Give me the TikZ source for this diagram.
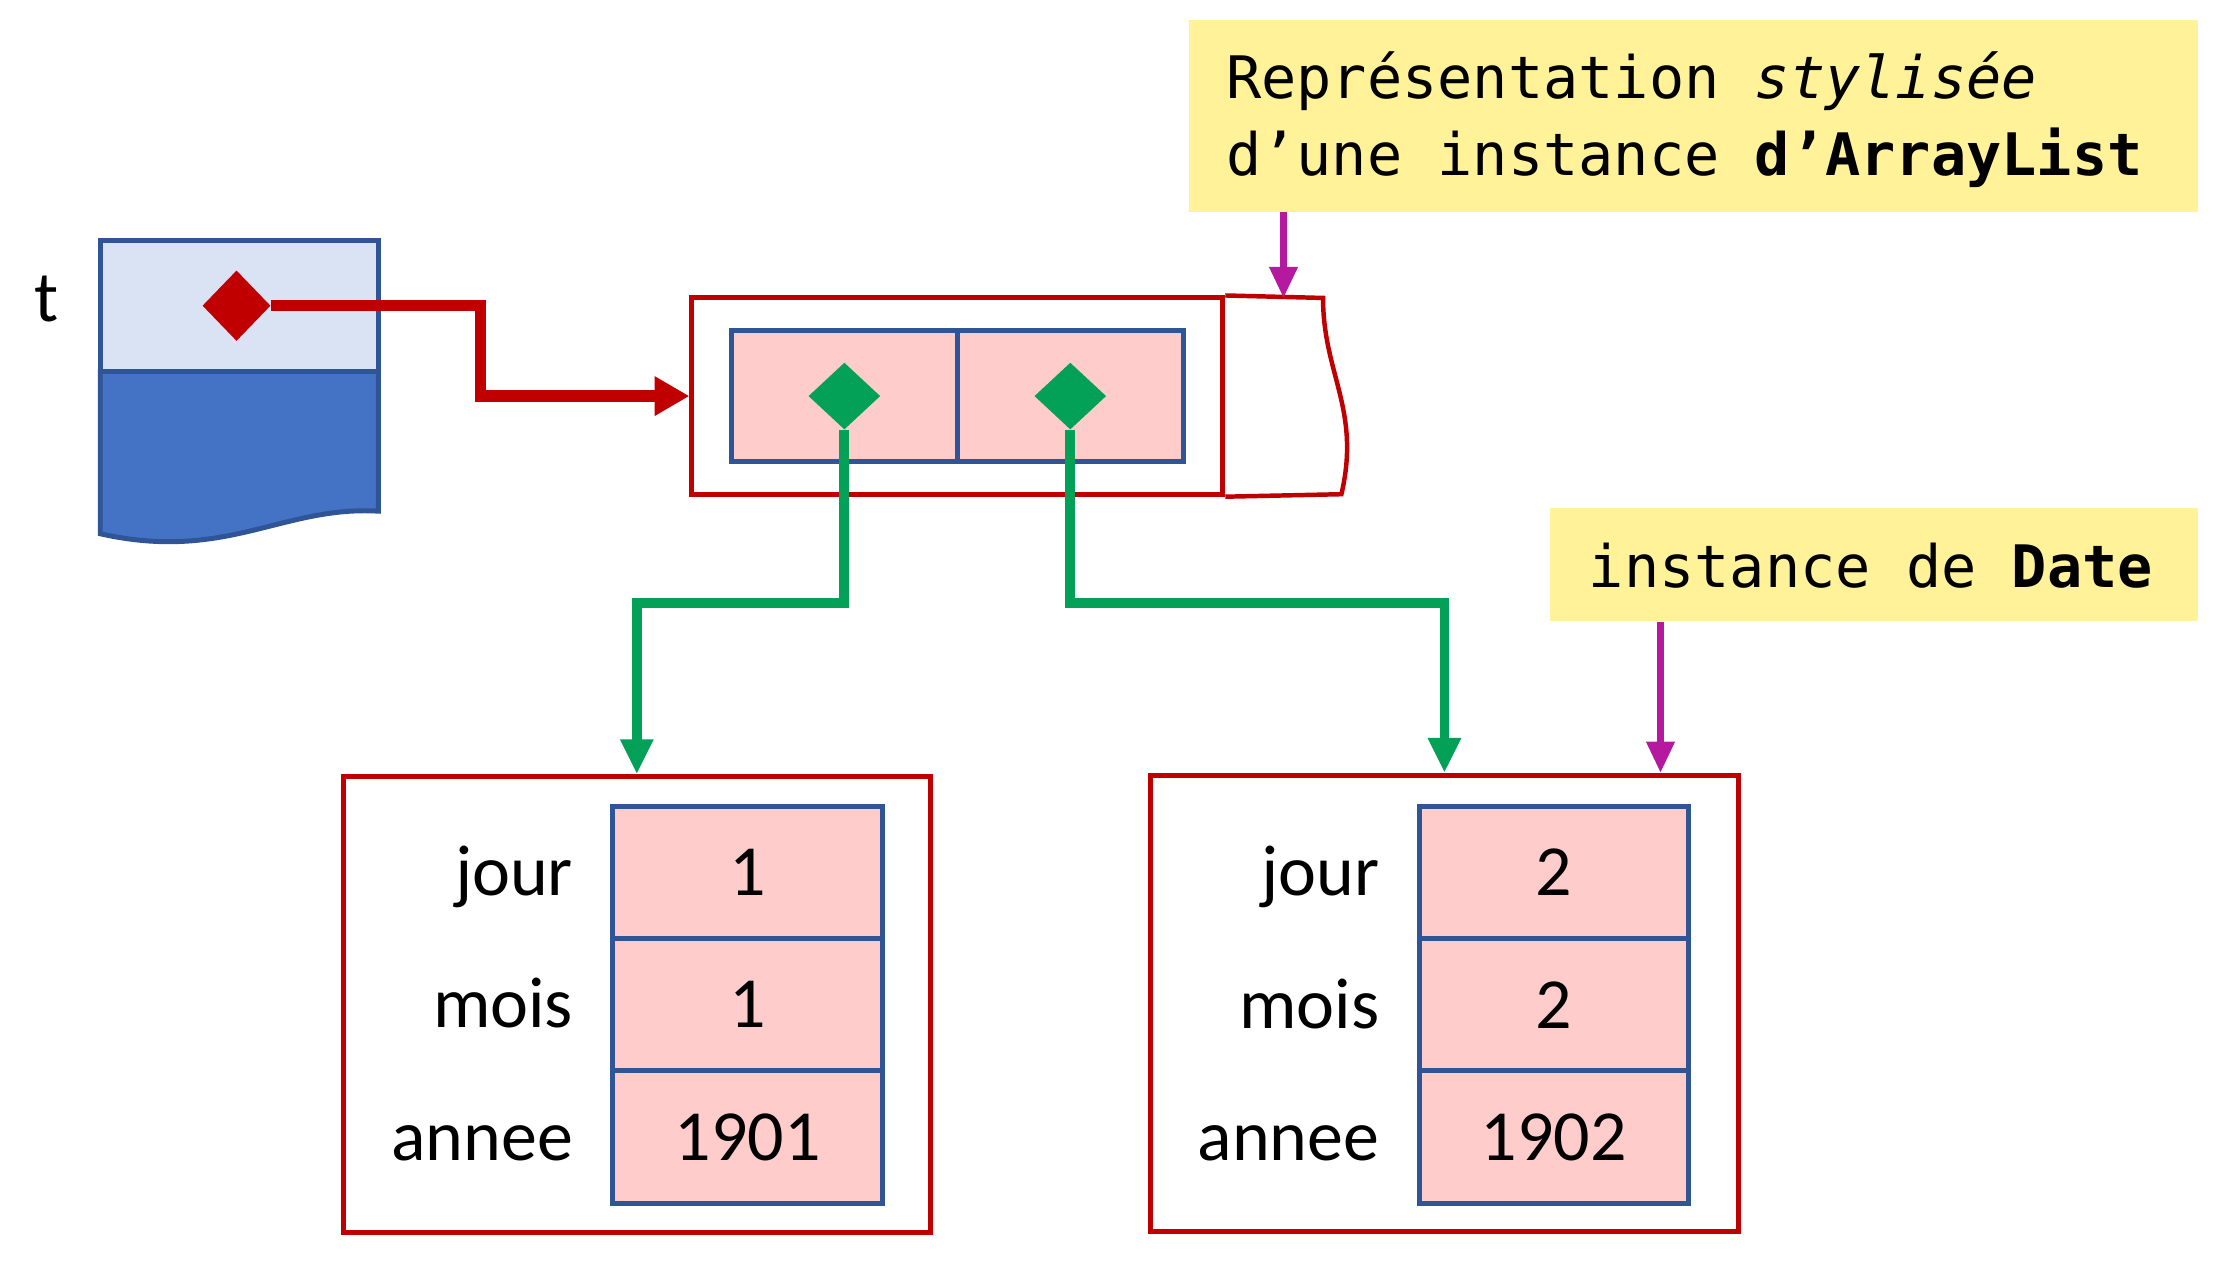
\documentclass[tikz,border=0pt]{standalone}
\usepackage{fontspec}
\setmainfont{Carlito}
\newfontfamily\monof{DejaVu Sans Mono}
\usetikzlibrary{arrows.meta,shapes.geometric}
\definecolor{redC}{RGB}{192,0,0}
\definecolor{blueB}{RGB}{47,85,151}
\definecolor{pinkF}{RGB}{255,204,204}
\definecolor{greenC}{RGB}{3,160,87}
\definecolor{yellowF}{RGB}{255,242,153}
\definecolor{lightB}{RGB}{218,227,243}
\definecolor{blueF}{RGB}{68,114,196}
\definecolor{magC}{RGB}{180,25,160}
\newcommand\pxu{0.02cm}
\begin{document}
\begin{tikzpicture}[x=0.02cm,y=-0.02cm,line join=miter,
  redbox/.style={draw=redC,line width=2pt,fill=white,inner sep=0pt},
  cellbox/.style={draw=blueB,line width=2pt,fill=pinkF,inner sep=0pt,font=\fontsize{29}{34}\selectfont},
  lab/.style={font=\fontsize{29}{34}\selectfont,inner sep=0pt},
  monotxt/.style={font=\monof\fontsize{23.6}{28}\selectfont,inner sep=0pt},
  yellowbox/.style={fill=yellowF,inner sep=0pt},
  ptrR/.style={diamond,fill=redC,inner sep=0pt,minimum width=27.5pt,minimum height=28.5pt},
  ptrG/.style={diamond,fill=greenC,inner sep=0pt,minimum width=29pt,minimum height=27pt},
  redarrow/.style={draw=redC,line width=4.5pt,-{Triangle[length=14pt,width=15pt]}},
  greenarrow/.style={draw=greenC,line width=4pt,-{Triangle[length=14pt,width=12.5pt]}},
  magarrow/.style={draw=magC,line width=2.5pt,-{Triangle[length=12.5pt,width=11pt]}}]
\useasboundingbox (0,0) rectangle (1568,894);

% variable t
\node[lab,anchor=base] (t) at (33,228) {t};
\draw[draw=blueB,line width=2pt,fill=blueF] (71,263) -- (268,263) -- (268,362)
  .. controls (200,358) and (160,398) .. (71,378) -- cycle;
\node[draw=blueB,line width=2pt,fill=lightB,inner sep=0pt,minimum width=197*\pxu,minimum height=93*\pxu] (vtop) at (169.5,216.5) {};
\node[ptrR] (rd) at ([xshift=-2*\pxu]vtop.center) {};

% ArrayList
\node[redbox,minimum width=376*\pxu,minimum height=139*\pxu] (al) at (678,280.5) {};
\draw[draw=redC,line width=1.8pt] (al.north east) -- (937,211)
  .. controls (937,265) and (964,290) .. (950,350) -- (al.south east);
\node[cellbox,minimum width=160*\pxu,minimum height=93*\pxu] (c1) at (598,280.5) {};
\node[cellbox,minimum width=160*\pxu,minimum height=93*\pxu] (c2) at (758,280.5) {};
\node[ptrG] (g1) at (c1.center) {};
\node[ptrG] (g2) at (c2.center) {};

% Date 1
\node[redbox,minimum width=416*\pxu,minimum height=323*\pxu] (d1) at (451,711.5) {};
\node[cellbox,minimum width=191*\pxu,minimum height=93.7*\pxu] (d1a) at (529.5,617.8) {1};
\node[cellbox,minimum width=191*\pxu,minimum height=93.7*\pxu] (d1b) at (529.5,711.5) {1};
\node[cellbox,minimum width=191*\pxu,minimum height=93.7*\pxu] (d1c) at (529.5,805.2) {1901};
\node[lab,anchor=base east] (l1a) at ([xshift=-26*\pxu]d1a.base west) {jour};
\node[lab,anchor=base east] (l1b) at ([xshift=-26*\pxu]d1b.base west) {mois};
\node[lab,anchor=base east] (l1c) at ([xshift=-26*\pxu]d1c.base west) {annee};

% Date 2
\node[redbox,minimum width=416*\pxu,minimum height=323*\pxu] (d2) at (1023,710.5) {};
\node[cellbox,minimum width=191*\pxu,minimum height=93.7*\pxu] (d2a) at (1100.5,617.8) {2};
\node[cellbox,minimum width=191*\pxu,minimum height=93.7*\pxu] (d2b) at (1100.5,711.5) {2};
\node[cellbox,minimum width=191*\pxu,minimum height=93.7*\pxu] (d2c) at (1100.5,805.2) {1902};
\node[lab,anchor=base east] (l2a) at ([xshift=-26*\pxu]d2a.base west) {jour};
\node[lab,anchor=base east] (l2b) at ([xshift=-26*\pxu]d2b.base west) {mois};
\node[lab,anchor=base east] (l2c) at ([xshift=-26*\pxu]d2c.base west) {annee};

% notes
\node[yellowbox,minimum width=715*\pxu,minimum height=136*\pxu] (y1) at (1199.5,82) {};
\node[monotxt,anchor=base west] (y1a) at (868,70) {Représentation \textit{stylisée}};
\node[monotxt,anchor=base west] (y1b) at (868,124) {d’une instance \textbf{d’ArrayList}};
\node[yellowbox,minimum width=459*\pxu,minimum height=80*\pxu] (y2) at (1327.5,400) {};
\node[monotxt,anchor=base] (y2t) at (1325,416) {instance de \textbf{Date}};

% connectors
\coordinate (bendR) at (340,0);
\draw[redarrow] (rd.east) -| (bendR |- al.west) -- (al.west);
\coordinate (gm) at (0,427);
\draw[greenarrow] (g1.south) -- (g1.south |- gm) -| (d1.north);
\draw[greenarrow] (g2.south) -- (g2.south |- gm) -| (d2.north);
\coordinate (restTop) at (909,211);
\draw[magarrow] (y1.south -| restTop) -- (restTop);
\coordinate (m2) at (1176,0);
\draw[magarrow] (y2.south -| m2) -- (d2.north -| m2);
\end{tikzpicture}
\end{document}
